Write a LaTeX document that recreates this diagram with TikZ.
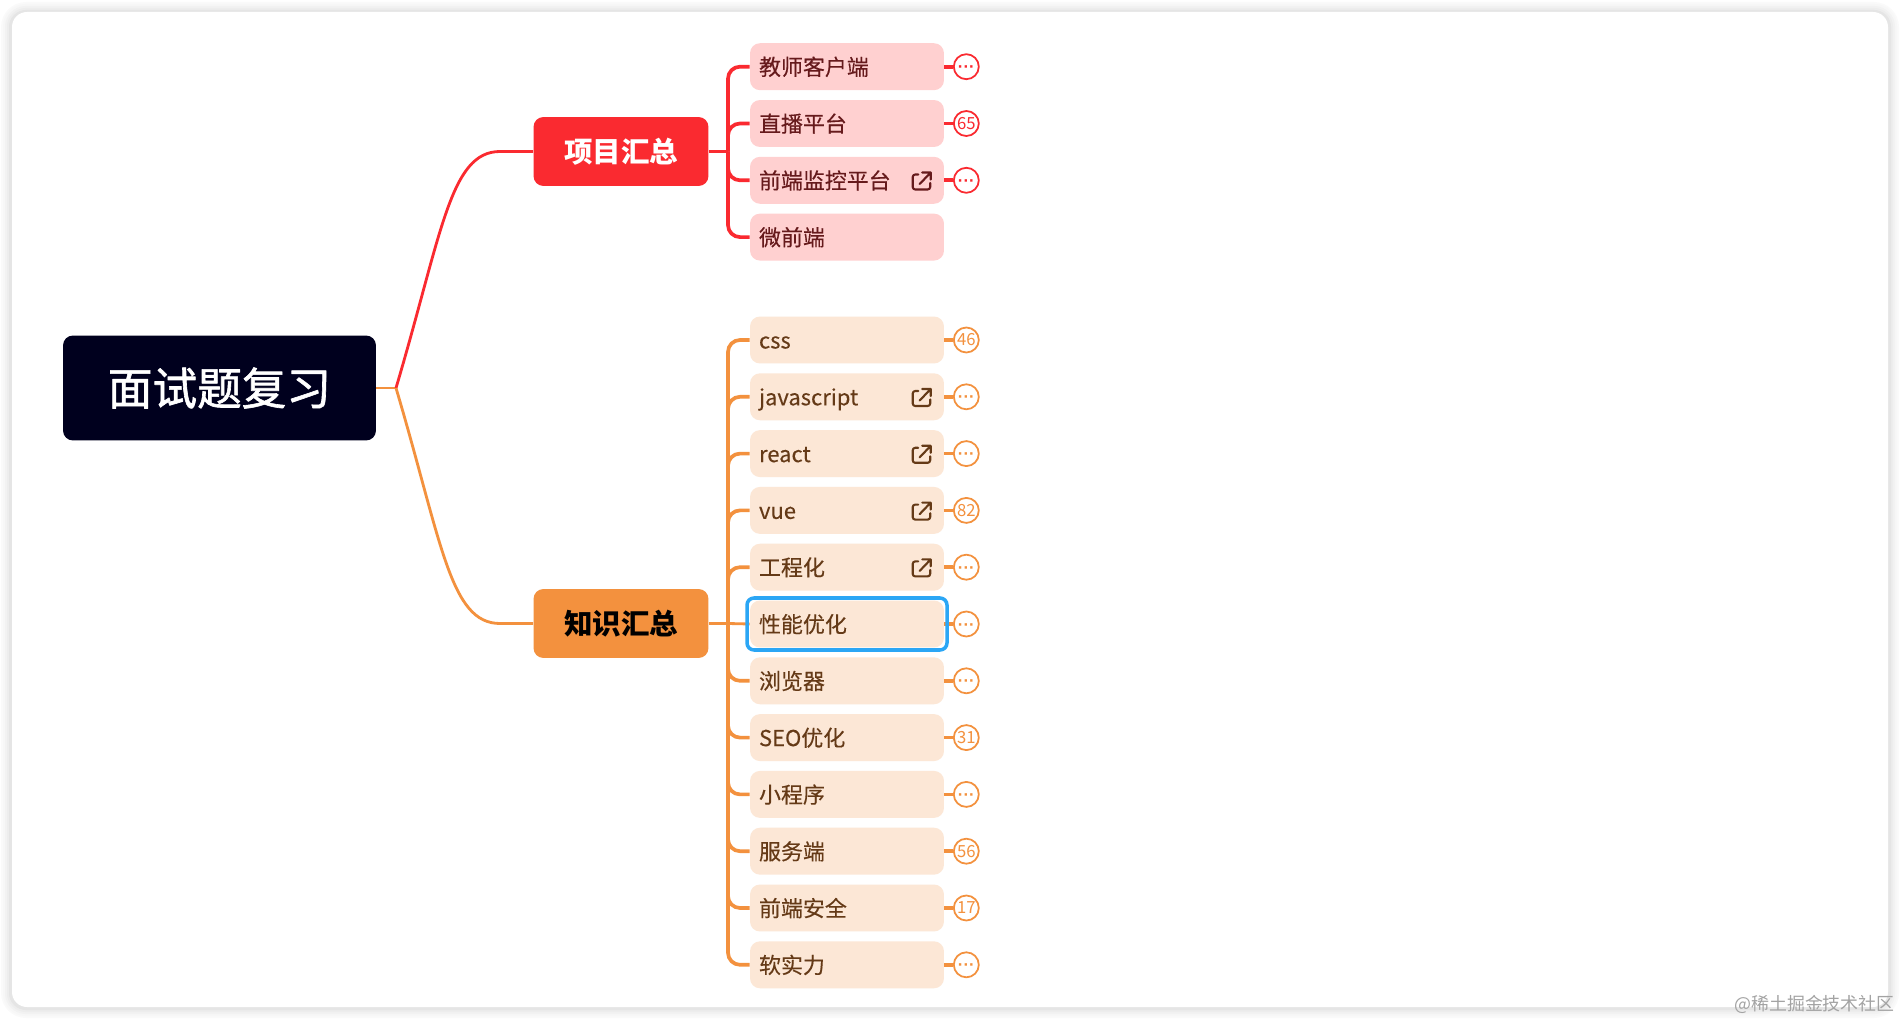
\documentclass[tikz,border=0pt]{standalone}
\usepackage{fontspec}
\setmainfont{Noto Sans CJK SC}
\newfontfamily\rootfont[FakeBold=1.4]{Noto Sans CJK SC}
\newfontfamily\itemfont[FakeBold=0.25]{Noto Sans CJK SC}
\newfontfamily\dotfont{Liberation Sans}
\newcommand{\moredots}{\smash{\raisebox{-0.36em}{\dotfont\bfseries ···}}}
\usetikzlibrary{positioning}

\definecolor{rootnavy}{HTML}{00001E}
\definecolor{redline}{HTML}{FA2A30}
\definecolor{redfill}{HTML}{FFD0D0}
\definecolor{redtext}{HTML}{661A1C}
\definecolor{orgline}{HTML}{F3913E}
\definecolor{orgfill}{HTML}{FCE7D6}
\definecolor{orgtext}{HTML}{653A17}
\definecolor{selblue}{HTML}{2BA6F5}

\tikzset{
  rootbox/.style={rounded corners=0.2cm, fill=rootnavy, text=white, minimum width=6.26cm, minimum height=2.1cm, font=\fontsize{25.4}{30}\rootfont},
  headbox/.style={rounded corners=0.2cm, minimum width=3.5cm, minimum height=1.38cm, font=\fontsize{16.2}{19}\selectfont\bfseries},
  itembox/.style={rounded corners=0.2cm, minimum width=3.88cm, minimum height=0.94cm, text width=3.52cm, align=left, inner xsep=0.18cm, inner ysep=0pt, text height=0.42cm, text depth=0.08cm, font=\fontsize{12.5}{15}\itemfont},
  rednode/.style={itembox, fill=redfill, text=redtext},
  orgnode/.style={itembox, fill=orgfill, text=orgtext},
  badge/.style={circle, draw, fill=white, line width=1pt, minimum size=0.5cm, inner sep=0pt, font=\fontsize{9.5}{10}\selectfont},
  redbadge/.style={badge, draw=redline, text=redline},
  orgbadge/.style={badge, draw=orgline, text=orgline},
  redlink/.style={draw=redline, line width=1.6pt},
  orglink/.style={draw=orgline, line width=1.6pt},
  reditem/.style={draw=redline, line width=2.1pt},
  orgitem/.style={draw=orgline, line width=2.1pt},
  linkicon/.pic={
    \draw[line width=1.2pt, rounded corners=0.05cm, line cap=round] (-3.5,-6.5)--(-9,-6.5)--(-9,8.5)--(8.5,8.5)--(8.5,2);
    \draw[line width=1.2pt, line cap=round, line join=round] (-2,3)--(9,-8.5) (0.5,-8.5)--(9,-8.5)--(9,-1.5);
  },
}

\begin{document}
\begin{tikzpicture}[x=0.02cm, y=-0.02cm, line join=round]
  \useasboundingbox (0,0) rectangle (1901,1020);

  % soft shadow and card
  \fill[black!2, rounded corners=0.5cm] (1,2) rectangle (1899,1018);
  \fill[black!3, rounded corners=0.45cm] (3,4) rectangle (1897,1016);
  \fill[black!5, rounded corners=0.42cm] (5,6) rectangle (1895,1014);
  \fill[black!7, rounded corners=0.38cm] (7,8) rectangle (1893,1012);
  \fill[black!10, rounded corners=0.34cm] (9,10) rectangle (1891,1010);
  \fill[white, rounded corners=0.3cm] (12,12) rectangle (1888,1007);

  \node[rootbox] (root) at (219.5,388) {面试题复习};
  \node[headbox, fill=redline, text=white] (proj) at (621,151.5) {项目汇总};
  \node[headbox, fill=orgline, text=black] (know) at (621,623.5) {知识汇总};

  \coordinate (hub) at (396,388);
  \coordinate (projin) at (500,151.5);
  \coordinate (knowin) at (500,623.5);
  \coordinate (projhub) at (728,151.5);
  \coordinate (knowhub) at (728,623.5);

  \node[rednode] (p1) at (847,66.7) {教师客户端};
  \node[rednode] (p2) at (847,123.5) {直播平台};
  \node[rednode] (p3) at (847,180.3) {前端监控平台};
  \node[rednode] (p4) at (847,237.1) {微前端};

  \node[orgnode] (k1) at (847,340) {css};
  \node[orgnode] (k2) at (847,396.8) {javascript};
  \node[orgnode] (k3) at (847,453.6) {react};
  \node[orgnode] (k4) at (847,510.4) {vue};
  \node[orgnode] (k5) at (847,567.2) {工程化};
  \node[orgnode] (k6) at (847,624) {性能优化};
  \node[orgnode] (k7) at (847,680.8) {浏览器};
  \node[orgnode] (k8) at (847,737.6) {SEO优化};
  \node[orgnode] (k9) at (847,794.4) {小程序};
  \node[orgnode] (k10) at (847,851.2) {服务端};
  \node[orgnode] (k11) at (847,908) {前端安全};
  \node[orgnode] (k12) at (847,964.8) {软实力};

  \node[redbadge] (pb1) at (966.3,66.7) {\moredots};
  \node[redbadge] (pb2) at (966.3,123.5) {65};
  \node[redbadge] (pb3) at (966.3,180.3) {\moredots};

  \node[orgbadge] (kb1) at (966.3,340) {46};
  \node[orgbadge] (kb2) at (966.3,396.8) {\moredots};
  \node[orgbadge] (kb3) at (966.3,453.6) {\moredots};
  \node[orgbadge] (kb4) at (966.3,510.4) {82};
  \node[orgbadge] (kb5) at (966.3,567.2) {\moredots};
  \node[orgbadge] (kb6) at (966.3,624) {\moredots};
  \node[orgbadge] (kb7) at (966.3,680.8) {\moredots};
  \node[orgbadge] (kb8) at (966.3,737.6) {31};
  \node[orgbadge] (kb9) at (966.3,794.4) {\moredots};
  \node[orgbadge] (kb10) at (966.3,851.2) {56};
  \node[orgbadge] (kb11) at (966.3,908) {17};
  \node[orgbadge] (kb12) at (966.3,964.8) {\moredots};

  \draw[orglink] (root.east)--(hub);
  \draw[redlink] (hub) .. controls +(46,-155) and +(-50,0) .. (projin)--(proj.west); % to first branch
  \draw[orglink] (hub) .. controls +(46,155) and +(-50,0) .. (knowin)--(know.west); % to second branch

  \draw[redlink] (proj.east)--(projhub);
  \draw[reditem, rounded corners=0.24cm] (projhub)|-(p1.west);
  \draw[reditem, rounded corners=0.24cm] (projhub)|-(p2.west);
  \draw[reditem, rounded corners=0.24cm] (projhub)|-(p3.west);
  \draw[reditem, rounded corners=0.24cm] (projhub)|-(p4.west);

  \draw[orglink] (know.east)--(knowhub);
  \draw[orgitem, rounded corners=0.24cm] (knowhub)|-(k1.west);
  \draw[orgitem, rounded corners=0.24cm] (knowhub)|-(k2.west);
  \draw[orgitem, rounded corners=0.24cm] (knowhub)|-(k3.west);
  \draw[orgitem, rounded corners=0.24cm] (knowhub)|-(k4.west);
  \draw[orgitem, rounded corners=0.24cm] (knowhub)|-(k5.west);
  \draw[orglink] (knowhub)--(k6.west);
  \draw[orgitem, rounded corners=0.24cm] (knowhub)|-(k7.west);
  \draw[orgitem, rounded corners=0.24cm] (knowhub)|-(k8.west);
  \draw[orgitem, rounded corners=0.24cm] (knowhub)|-(k9.west);
  \draw[orgitem, rounded corners=0.24cm] (knowhub)|-(k10.west);
  \draw[orgitem, rounded corners=0.24cm] (knowhub)|-(k11.west);
  \draw[orgitem, rounded corners=0.24cm] (knowhub)|-(k12.west);

  \draw[reditem] (p1.east)--(pb1);
  \draw[reditem] (p2.east)--(pb2);
  \draw[reditem] (p3.east)--(pb3);

  \draw[orgitem] (k1.east)--(kb1);
  \draw[orgitem] (k2.east)--(kb2);
  \draw[orgitem] (k3.east)--(kb3);
  \draw[orgitem] (k4.east)--(kb4);
  \draw[orgitem] (k5.east)--(kb5);
  \draw[orgitem] (k6.east)--(kb6);
  \draw[orgitem] (k7.east)--(kb7);
  \draw[orgitem] (k8.east)--(kb8);
  \draw[orgitem] (k9.east)--(kb9);
  \draw[orgitem] (k10.east)--(kb10);
  \draw[orgitem] (k11.east)--(kb11);
  \draw[orgitem] (k12.east)--(kb12);

  \pic[color=redtext] at (921.7,181) {linkicon};
  \pic[color=orgtext] at (921.7,397.5) {linkicon};
  \pic[color=orgtext] at (921.7,454.3) {linkicon};
  \pic[color=orgtext] at (921.7,511.1) {linkicon};
  \pic[color=orgtext] at (921.7,567.9) {linkicon};

  \draw[selblue, line width=2pt, rounded corners=0.14cm] (747,598) rectangle (947,650); % selected item

  \node[text=black!36, anchor=east, inner sep=0pt, font=\fontsize{10.2}{12}\selectfont] (mark) at (1895,1004) {@稀土掘金技术社区};
\end{tikzpicture}
\end{document}
